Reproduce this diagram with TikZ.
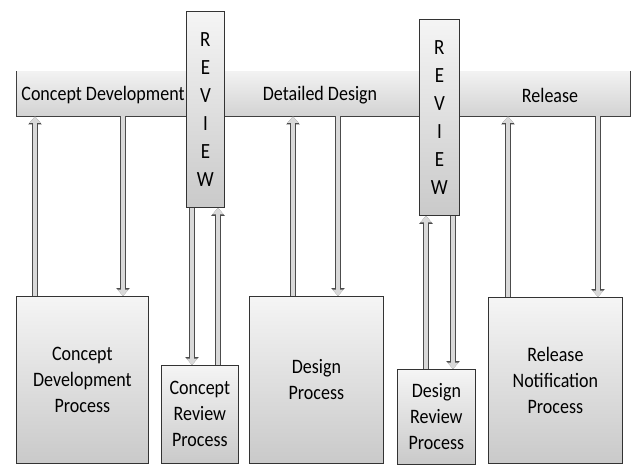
\documentclass[tikz,border=0pt]{standalone}
\usepackage{fontspec}
\setmainfont{Carlito}
\usetikzlibrary{arrows.meta}
\newcommand\vst[1]{\scalebox{1}[1.14]{#1}}
\begin{document}
\begin{tikzpicture}[x=1pt,y=-1pt,
  box/.style={draw=black!80, line width=0.8pt, top color=gray!8, bottom color=gray!42,
    inner sep=0pt, anchor=north west, align=center, font=\fontsize{18}{26}\selectfont},
  revbox/.style={box, font=\fontsize{19}{28}\selectfont},
  bartext/.style={font=\fontsize{18}{22}\selectfont, inner sep=0pt},
  arr/.style={preaction={draw=gray!60!black, line width=6.5pt, -{Triangle[length=8pt,width=13pt]}},
    draw=gray!30, line width=4.3pt, -{Triangle[length=6.5pt,width=10.5pt]}}
]
\useasboundingbox (0,0) rectangle (635,464);
% main bar
\node[anchor=north west, minimum width=614pt, minimum height=45pt, inner sep=0pt,
  top color=gray!10, bottom color=gray!35] (bar) at (16,71) {};
\draw[black!75, line width=0.8pt] (bar.north west) |- (bar.south east) -- (bar.north east);
\node[bartext] (t1) at (103,95) {\vst{Concept Development}};
\node[bartext] (t2) at (320,95) {\vst{Detailed Design}};
\node[bartext] (t3) at (550,95) {\vst{Release}};
% review boxes
\node[revbox, minimum width=38pt, minimum height=196pt] (rev1) at (186,11) {\vst{R}\\\vst{E}\\\vst{V}\\\vst{I}\\\vst{E}\\\vst{W}};
\node[revbox, minimum width=40pt, minimum height=196pt] (rev2) at (419,19) {\vst{R}\\\vst{E}\\\vst{V}\\\vst{I}\\\vst{E}\\\vst{W}};
% process boxes
\node[box, minimum width=132pt, minimum height=167pt] (cdp) at (16,296) {\vst{Concept}\\\vst{Development}\\\vst{Process}};
\node[box, minimum width=77pt, minimum height=98pt] (crp) at (161,365) {\vst{Concept}\\\vst{Review}\\\vst{Process}};
\node[box, minimum width=134pt, minimum height=167pt] (dp) at (249,296) {\vst{Design}\\\vst{Process}};
\node[box, minimum width=78pt, minimum height=95pt] (drp) at (397,369) {\vst{Design}\\\vst{Review}\\\vst{Process}};
\node[box, minimum width=134pt, minimum height=166pt] (rnp) at (488,297) {\vst{Release}\\\vst{Notification}\\\vst{Process}};
% x positions of connectors
\coordinate (x1) at (35,0);
\coordinate (x2) at (123,0);
\coordinate (x3) at (192,0);
\coordinate (x4) at (218,0);
\coordinate (x5) at (293,0);
\coordinate (x6) at (338,0);
\coordinate (x7) at (426,0);
\coordinate (x8) at (453,0);
\coordinate (x9) at (508,0);
\coordinate (x10) at (598,0);
% connectors
\draw[arr] (cdp.north -| x1) -- (bar.south -| x1);
\draw[arr] (bar.south -| x2) -- (cdp.north -| x2);
\draw[arr] (rev1.south -| x3) -- (crp.north -| x3);
\draw[arr] (crp.north -| x4) -- (rev1.south -| x4);
\draw[arr] (dp.north -| x5) -- (bar.south -| x5);
\draw[arr] (bar.south -| x6) -- (dp.north -| x6);
\draw[arr] (drp.north -| x7) -- (rev2.south -| x7);
\draw[arr] (rev2.south -| x8) -- (drp.north -| x8);
\draw[arr] (rnp.north -| x9) -- (bar.south -| x9);
\draw[arr] (bar.south -| x10) -- (rnp.north -| x10);
\end{tikzpicture}
\end{document}
